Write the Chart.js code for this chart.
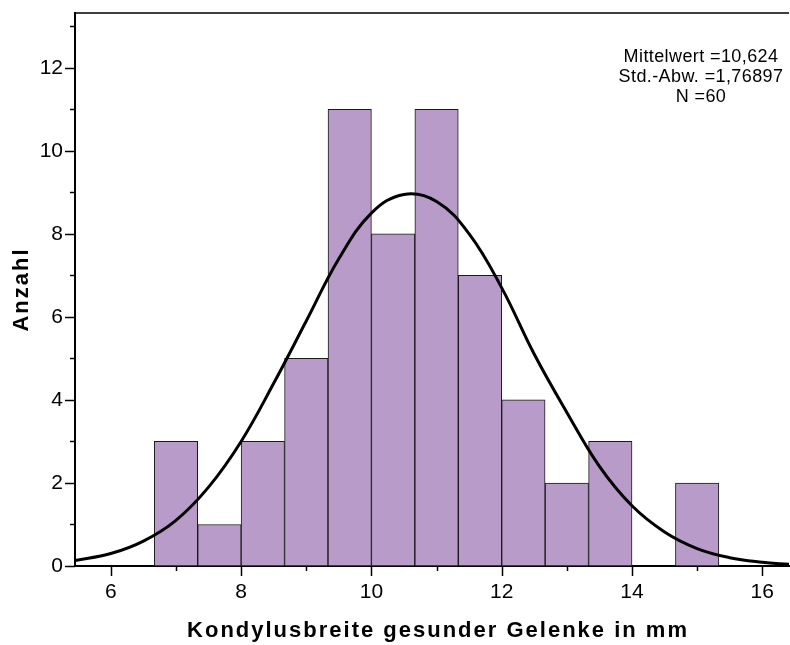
<!DOCTYPE html>
<html>
<head>
<meta charset="utf-8">
<script src="https://cdn.jsdelivr.net/npm/chart.js@4/dist/chart.umd.min.js"></script>
<style>
  body { margin: 0; background: #fff; }
  canvas { display: block; }
</style>
</head>
<body>
<canvas id="histo" width="790" height="645"></canvas>
<script>
// Klassenmitten und Häufigkeiten (Klassenbreite 2/3 mm)
const klassenMitten = [7, 7.667, 8.333, 9, 9.667, 10.333, 11, 11.667, 12.333, 13, 13.667, 14.333, 15];
const anzahl = [3, 1, 3, 5, 11, 8, 11, 7, 4, 2, 3, 0, 2];

// Normalverteilungskurve
const kurveX = [5.45, 6, 6.5, 7, 7.5, 8, 8.5, 9, 9.5, 10, 10.5, 11, 11.5, 12, 12.5, 13, 13.5, 14, 14.5, 15, 15.5, 16, 16.41];
const kurveY = [0.13, 0.3, 0.6, 1.1, 1.9, 3.0, 4.4, 5.9, 7.4, 8.5, 8.95, 8.78, 8.0, 6.7, 5.1, 3.7, 2.4, 1.45, 0.82, 0.42, 0.2, 0.09, 0.04];

const statistik = ['Mittelwert =10,624', 'Std.-Abw. =1,76897', 'N =60'];
const xTitel = 'Kondylusbreite gesunder Gelenke in mm';
const yTitel = 'Anzahl';

const xMin = 5.45, xMax = 16.41;
const yMin = 0, yMax = 13.32;

const schrift = "'Liberation Sans', Arial, sans-serif";

// Striche an den Achsen, oberer Rahmen, Achsentitel und Kennwerte
const achsenPlugin = {
  id: 'achsen',
  afterDraw(chart) {
    const { ctx, chartArea: a, scales: { x, y } } = chart;
    ctx.save();
    ctx.strokeStyle = '#000';
    ctx.lineWidth = 1.5;
    ctx.beginPath();
    ctx.moveTo(a.left, a.top);
    ctx.lineTo(a.right, a.top);
    for (let v = 0; v <= 13; v++) {
      const py = Math.round(y.getPixelForValue(v)) + 0.5;
      const len = v % 2 === 0 ? 10 : 5;
      ctx.moveTo(a.left - len, py);
      ctx.lineTo(a.left, py);
    }
    for (let v = 6; v <= 16; v++) {
      const px = Math.round(x.getPixelForValue(v)) + 0.5;
      const len = v % 2 === 0 ? 10 : 5;
      ctx.moveTo(px, a.bottom);
      ctx.lineTo(px, a.bottom + len);
    }
    ctx.stroke();

    ctx.fillStyle = '#000';
    ctx.textAlign = 'center';
    ctx.textBaseline = 'middle';

    // Kennwerte oben rechts
    ctx.font = '18px ' + schrift;
    ctx.letterSpacing = '0.4px';
    statistik.forEach((t, i) => {
      ctx.fillText(t, a.right - 88, a.top + 44 + i * 20);
    });

    // Achsentitel
    ctx.font = 'bold 22px ' + schrift;
    ctx.letterSpacing = '2px';
    ctx.fillText(xTitel, (a.left + a.right) / 2 + 6, a.bottom + 65);
    ctx.translate(22, (a.top + a.bottom) / 2 + 1);
    ctx.rotate(-Math.PI / 2);
    ctx.fillText(yTitel, 1, 0);
    ctx.restore();
  }
};

new Chart(document.getElementById('histo'), {
  type: 'bar',
  data: {
    datasets: [
      {
        type: 'line',
        data: kurveX.map((v, i) => ({ x: v, y: kurveY[i] })),
        borderColor: '#000',
        borderWidth: 3,
        pointRadius: 0,
        fill: false,
        tension: 0.4,
        order: 0
      },
      {
        type: 'bar',
        data: klassenMitten.map((v, i) => ({ x: v, y: anzahl[i] })),
        backgroundColor: '#b89bc9',
        borderColor: '#1a1a1a',
        borderWidth: 1,
        borderSkipped: false,
        barPercentage: 1,
        categoryPercentage: 1,
        order: 1
      }
    ]
  },
  options: {
    responsive: false,
    animation: false,
    devicePixelRatio: 1,
    layout: { padding: { top: 13, right: 1, left: 0, bottom: 0 } },
    plugins: {
      legend: { display: false },
      tooltip: { enabled: false }
    },
    scales: {
      x: {
        type: 'linear',
        min: xMin,
        max: xMax,
        offset: false,
        grid: { display: false, drawTicks: false, offset: false },
        border: { display: true, color: '#000', width: 2 },
        afterBuildTicks: s => {
          const t = [];
          for (let v = 6; v <= 16; v++) t.push({ value: v });
          s.ticks = t;
        },
        ticks: {
          autoSkip: false,
          maxRotation: 0,
          padding: 14,
          color: '#000',
          font: { family: schrift, size: 21 },
          callback: v => (v % 2 === 0 ? String(v) : '')
        },
        afterFit: s => {
          s.height = 79;
          s.paddingLeft = 0;
          s.paddingRight = 0;
        }
      },
      y: {
        min: yMin,
        max: yMax,
        grid: { display: false, drawTicks: false },
        border: { display: true, color: '#000', width: 2 },
        afterBuildTicks: s => {
          const t = [];
          for (let v = 0; v <= 13; v++) t.push({ value: v });
          s.ticks = t;
        },
        ticks: {
          autoSkip: false,
          padding: 12,
          color: '#000',
          font: { family: schrift, size: 21 },
          callback: v => (v % 2 === 0 ? String(v) : '')
        },
        afterFit: s => {
          s.width = 75;
          s.paddingTop = 0;
          s.paddingBottom = 0;
        }
      }
    }
  },
  plugins: [achsenPlugin]
});
</script>
</body>
</html>
